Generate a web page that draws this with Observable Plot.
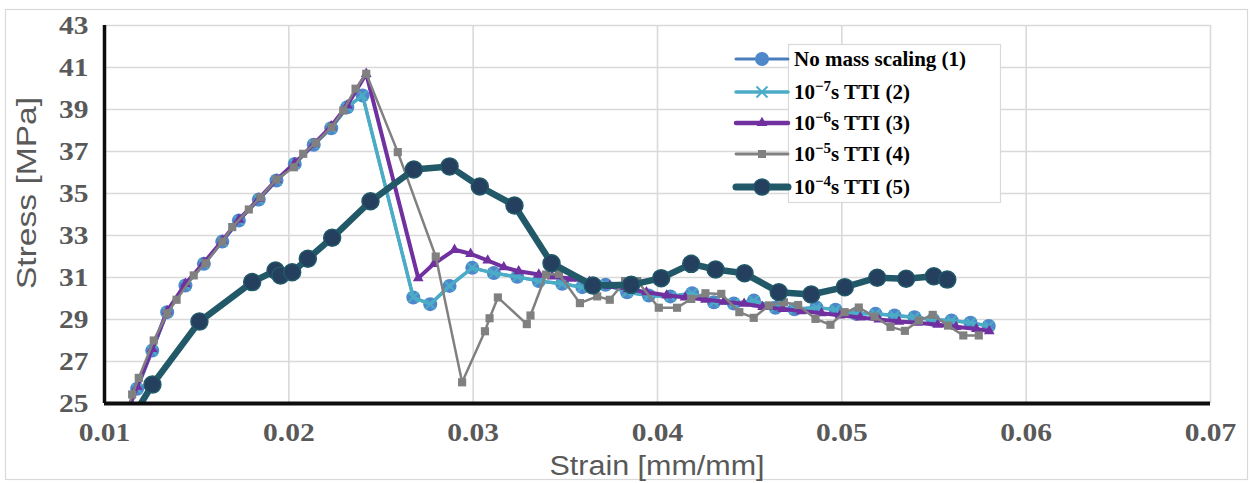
<!DOCTYPE html>
<html>
<head>
<meta charset="utf-8">
<script src="https://cdn.jsdelivr.net/npm/d3@7"></script>
<script src="https://cdn.jsdelivr.net/npm/@observablehq/plot@0.6"></script>
<style>
  html, body { margin: 0; padding: 0; background: #fff; }
  #chart { width: 1253px; height: 483px; }
</style>
</head>
<body>
<div id="chart"></div>
<script>
// Axis ticks
const xTicks = [0.01, 0.02, 0.03, 0.04, 0.05, 0.06, 0.07];
const yTicks = [25, 27, 29, 31, 33, 35, 37, 39, 41, 43];

// (1) No mass scaling
const strain1 = [0.0111, 0.01177, 0.01259, 0.0134, 0.01439, 0.01539, 0.01639, 0.01729, 0.01837, 0.01933,
  0.02032, 0.02135, 0.0223, 0.02317, 0.0240, 0.02675, 0.02767, 0.02872, 0.02995, 0.03112,
  0.03239, 0.03356, 0.03483, 0.03592, 0.03718, 0.03835, 0.03953, 0.0407, 0.04188, 0.04306,
  0.04414, 0.04523, 0.0464, 0.04743, 0.04862, 0.04966, 0.05078, 0.05183, 0.05286, 0.05394,
  0.05495, 0.05595, 0.05698, 0.05797];
const stress1 = [24.4, 25.70, 27.52, 29.35, 30.62, 31.65, 32.71, 33.71, 34.71, 35.62,
  36.41, 37.32, 38.11, 39.11, 39.67, 30.05, 29.73, 30.6, 31.46, 31.21,
  31.03, 30.83, 30.70, 30.54, 30.65, 30.3, 30.14, 30.1, 30.25, 29.82,
  29.76, 29.9, 29.56, 29.49, 29.57, 29.47, 29.27, 29.27, 29.19, 29.11,
  28.99, 28.95, 28.85, 28.69];

// (2) 1e-7 s time-step
const strain2 = [0.0111, 0.01177, 0.01259, 0.0134, 0.01439, 0.01539, 0.01639, 0.01729, 0.01837, 0.01933,
  0.02032, 0.02135, 0.0223, 0.02317, 0.0240, 0.02675, 0.02767, 0.02872, 0.02995, 0.03112,
  0.03239, 0.03356, 0.03483, 0.03592, 0.03718, 0.03835, 0.03953, 0.0407, 0.04188, 0.04306,
  0.04414, 0.04523, 0.0464, 0.04743, 0.04862, 0.04966, 0.05078, 0.05183, 0.05286, 0.05394,
  0.05495, 0.05595, 0.05698, 0.05797];
const stress2 = [24.4, 25.70, 27.52, 29.35, 30.62, 31.65, 32.71, 33.71, 34.71, 35.62,
  36.41, 37.32, 38.11, 39.11, 39.67, 30.05, 29.73, 30.6, 31.46, 31.21,
  31.03, 30.83, 30.70, 30.54, 30.65, 30.3, 30.14, 30.1, 30.25, 29.82,
  29.76, 29.9, 29.56, 29.49, 29.57, 29.47, 29.27, 29.27, 29.19, 29.11,
  28.99, 28.95, 28.85, 28.69];

// (3) 1e-6 s time-step
const strain3 = [0.0111, 0.01177, 0.01259, 0.0134, 0.01439, 0.01539, 0.01639, 0.01729, 0.01837, 0.01933,
  0.02032, 0.02135, 0.0223, 0.02317, 0.0242, 0.02702, 0.02787, 0.02899, 0.02986, 0.03079,
  0.03166, 0.03247, 0.03356, 0.03428, 0.0353, 0.0363, 0.0374, 0.0384, 0.0394, 0.0405,
  0.0415, 0.0426, 0.0436, 0.0447, 0.0457, 0.0468, 0.0478, 0.0489, 0.0499, 0.0510,
  0.0520, 0.0531, 0.0541, 0.0552, 0.0562, 0.0573, 0.0580];
const stress3 = [24.3, 25.8, 27.6, 29.4, 30.7, 31.7, 32.75, 33.75, 34.75, 35.65,
  36.45, 37.35, 38.2, 39.2, 40.7, 30.97, 31.65, 32.32, 32.13, 31.81,
  31.49, 31.3, 31.14, 31.05, 30.95, 30.8, 30.6, 30.45, 30.3, 30.15,
  30.05, 29.95, 29.85, 29.75, 29.6, 29.5, 29.4, 29.3, 29.2, 29.1,
  29.0, 28.9, 28.85, 28.75, 28.65, 28.55, 28.45];

// (4) 1e-5 s time-step
const strain4 = [0.0112, 0.0115, 0.01186, 0.01267, 0.0134, 0.01391, 0.01484, 0.01548, 0.01639, 0.01693,
  0.01783, 0.01846, 0.01933, 0.02027, 0.02078, 0.02145, 0.02232, 0.02295, 0.02362, 0.0242,
  0.02591, 0.02797, 0.0294, 0.03064, 0.03089, 0.03134, 0.03291, 0.03311, 0.03395, 0.03465,
  0.03579, 0.03673, 0.03741, 0.03824, 0.0389, 0.04007, 0.04106, 0.04183, 0.0426, 0.04346,
  0.04444, 0.04522, 0.04604, 0.04686, 0.04763, 0.04857, 0.04938, 0.05015, 0.05092, 0.05178,
  0.05264, 0.05342, 0.05418, 0.05493, 0.05576, 0.05659, 0.05743];
const stress4 = [24.5, 25.43, 26.22, 28.0, 29.3, 29.94, 31.1, 31.68, 32.71, 33.4,
  34.24, 34.82, 35.67, 36.25, 36.89, 37.41, 38.16, 38.95, 39.99, 40.70,
  36.97, 32.0, 26.01, 28.44, 29.06, 30.05, 28.78, 29.19, 31.14, 31.17,
  29.78, 30.1, 29.94, 30.83, 30.83, 29.56, 29.56, 29.98, 30.25, 30.22,
  29.35, 29.08, 29.67, 29.82, 29.69, 29.03, 28.75, 29.35, 29.57, 29.14,
  28.65, 28.46, 28.95, 29.22, 28.71, 28.24, 28.24];

// (5) 1e-4 s time-step
const strain5 = [0.0117, 0.0126, 0.01515, 0.01801, 0.01928, 0.01955, 0.02018, 0.02103, 0.02235, 0.02443,
  0.02678, 0.02872, 0.03036, 0.03224, 0.03425, 0.03649, 0.03857, 0.0402, 0.04183, 0.04315,
  0.04472, 0.04658, 0.04834, 0.05016, 0.05192, 0.05349, 0.05499, 0.05572];
const stress5 = [24.6, 25.9, 28.9, 30.78, 31.33, 31.1, 31.25, 31.89, 32.89, 34.63,
  36.14, 36.29, 35.33, 34.43, 31.68, 30.62, 30.65, 30.97, 31.65, 31.38,
  31.2, 30.3, 30.19, 30.54, 30.99, 30.94, 31.06, 30.9];

const rows = (xs, ys) => xs.map((x, i) => ({strain: x, stress: ys[i]}));
const s1 = rows(strain1, stress1);
const s2 = rows(strain2, stress2);
const s3 = rows(strain3, stress3);
const s4 = rows(strain4, stress4);
const s5 = rows(strain5, stress5);

const C = {
  blueLine: "#4A7EBB", blueDot: "#4F87CB",
  cyan: "#4BACC6",
  purple: "#7030A0",
  grey: "#808080",
  teal: "#215968", navy: "#253F5F",
  grid: "#d9d9d9", tick: "#595959", axis: "#0d0d0d"
};

const xy = {x: "strain", y: "stress", clip: true};

const chart = Plot.plot({
  width: 1253,
  height: 483,
  marginLeft: 104,
  marginRight: 43,
  marginTop: 25,
  marginBottom: 80,
  x: {domain: [0.01, 0.07]},
  y: {domain: [25, 43]},
  style: {
    fontFamily: "'Liberation Serif', 'Times New Roman', serif",
    fontSize: "25px",
    fontWeight: "bold",
    color: C.tick,
    background: "white",
    overflow: "visible"
  },
  marks: [
    Plot.gridX({ticks: xTicks, stroke: C.grid, strokeOpacity: 1, strokeWidth: 1.6}),
    Plot.gridY({ticks: yTicks, stroke: C.grid, strokeOpacity: 1, strokeWidth: 1.6}),
    Plot.axisX({ticks: xTicks, tickSize: 0, tickPadding: 20, tickFormat: d3.format(".2f"), label: null}),
    Plot.axisY({ticks: yTicks, tickSize: 0, tickPadding: 16, label: null}),

    // (1)
    Plot.line(s1, {...xy, stroke: C.blueLine, strokeWidth: 3}),
    Plot.dot(s1, {...xy, r: 7, fill: C.blueDot, stroke: null}),
    // (2)
    Plot.line(s2, {...xy, stroke: C.cyan, strokeWidth: 3.5}),
    Plot.dot(s2, {...xy, symbol: "times", r: 4.5, stroke: C.cyan, strokeWidth: 2}),
    // (3)
    Plot.line(s3, {...xy, stroke: C.purple, strokeWidth: 4}),
    Plot.dot(s3, {...xy, symbol: "triangle", r: 4, fill: C.purple, stroke: null}),
    // (4)
    Plot.line(s4, {...xy, stroke: C.grey, strokeWidth: 2.5}),
    Plot.dot(s4, {...xy, symbol: "square", r: 4.6, fill: C.grey, stroke: null}),
    // (5)
    Plot.line(s5, {...xy, stroke: C.teal, strokeWidth: 6.5}),
    Plot.dot(s5, {...xy, r: 8.5, fill: C.navy, stroke: C.teal, strokeWidth: 1.5}),

    // axis lines
    Plot.ruleX([0.01], {stroke: C.axis, strokeWidth: 3.5}),
    Plot.ruleY([25], {stroke: C.axis, strokeWidth: 4})
  ]
});

document.getElementById("chart").appendChild(chart);

const svg = d3.select(chart);

// widen the serif tick labels a little
svg.selectAll("g[aria-label='x-axis tick label'] text, g[aria-label='y-axis tick label'] text").each(function() {
  const w = this.getComputedTextLength();
  if (w > 0) {
    this.setAttribute("textLength", (w * 1.18).toFixed(1));
    this.setAttribute("lengthAdjust", "spacingAndGlyphs");
  }
});

// chart-area border
svg.insert("rect", ":first-child")
  .attr("x", 5.5).attr("y", 9.5).attr("width", 1242).attr("height", 470)
  .attr("fill", "white").attr("stroke", C.grid).attr("stroke-width", 1.2);

// axis titles
svg.append("text")
  .attr("transform", "translate(36,193) rotate(-90)")
  .attr("text-anchor", "middle")
  .attr("font-family", "'Liberation Sans Narrow', 'Liberation Sans', Arial, sans-serif")
  .attr("font-size", 27).attr("font-weight", "normal").attr("fill", C.tick)
  .attr("textLength", 192).attr("lengthAdjust", "spacingAndGlyphs")
  .text("Stress [MPa]");

svg.append("text")
  .attr("x", 657).attr("y", 475)
  .attr("text-anchor", "middle")
  .attr("font-family", "'Liberation Sans Narrow', 'Liberation Sans', Arial, sans-serif")
  .attr("font-size", 27).attr("font-weight", "normal").attr("fill", C.tick)
  .attr("textLength", 215).attr("lengthAdjust", "spacingAndGlyphs")
  .text("Strain [mm/mm]");

// legend
const legendItems = [
  {base: "No mass scaling (1)", exp: null, rest: "", kind: "blue"},
  {base: "10", exp: "−7", rest: "s TTI (2)", kind: "cyan"},
  {base: "10", exp: "−6", rest: "s TTI (3)", kind: "purple"},
  {base: "10", exp: "−5", rest: "s TTI (4)", kind: "grey"},
  {base: "10", exp: "−4", rest: "s TTI (5)", kind: "teal"}
];
const legendY = [59, 92, 123, 154, 187];

const lg = svg.append("g").attr("text-anchor", "start");
lg.append("rect")
  .attr("x", 788.5).attr("y", 44.5).attr("width", 212).attr("height", 158)
  .attr("fill", "white").attr("stroke", C.grid).attr("stroke-width", 1.2);

legendItems.forEach((d, i) => {
  const y = legendY[i];
  const g = lg.append("g");
  const x0 = 736, x1 = 788, xm = 762;
  const line = (color, w) => g.append("line").attr("x1", x0).attr("x2", x1).attr("y1", y).attr("y2", y)
    .attr("stroke", color).attr("stroke-width", w).attr("stroke-linecap", "round");
  if (d.kind === "blue") {
    line(C.blueLine, 3);
    g.append("circle").attr("cx", xm).attr("cy", y).attr("r", 7).attr("fill", C.blueDot);
  } else if (d.kind === "cyan") {
    line(C.cyan, 3.5);
    g.append("path").attr("d", d3.symbol(d3.symbolTimes, 80)()).attr("transform", `translate(${xm},${y})`)
      .attr("fill", "none").attr("stroke", C.cyan).attr("stroke-width", 2);
  } else if (d.kind === "purple") {
    line(C.purple, 4.5);
    g.append("path").attr("d", d3.symbol(d3.symbolTriangle, 50)()).attr("transform", `translate(${xm},${y})`)
      .attr("fill", C.purple);
  } else if (d.kind === "grey") {
    line(C.grey, 2.8);
    g.append("rect").attr("x", xm - 4).attr("y", y - 4).attr("width", 8).attr("height", 8).attr("fill", C.grey);
  } else {
    line(C.teal, 7);
    g.append("circle").attr("cx", xm).attr("cy", y).attr("r", 8).attr("fill", C.navy)
      .attr("stroke", C.teal).attr("stroke-width", 1.5);
  }
  const t = g.append("text")
    .attr("x", 794).attr("y", y + 7)
    .attr("text-anchor", "start")
    .attr("font-family", "'Liberation Serif', 'Times New Roman', serif")
    .attr("font-size", 21).attr("font-weight", "bold").attr("fill", "#000");
  t.append("tspan").text(d.base);
  if (d.exp) {
    t.append("tspan").attr("dy", -8).attr("font-size", 15).text(d.exp);
    t.append("tspan").attr("dy", 8).text(d.rest);
  }
});
</script>
</body>
</html>
